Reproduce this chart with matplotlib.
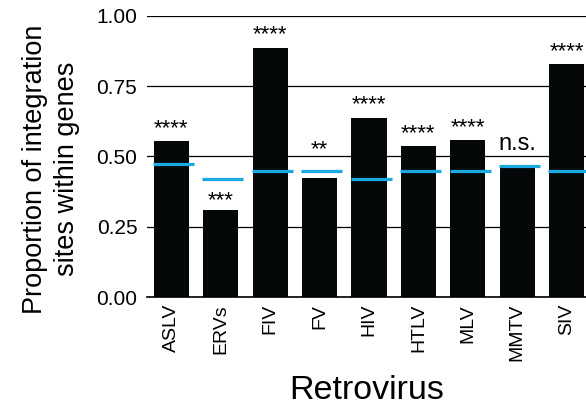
import numpy as np
import matplotlib.pyplot as plt

plt.rcParams['font.family'] = ['Liberation Sans', 'DejaVu Sans']

# proportion of integration sites within genes, per retrovirus
viruses = ['ASLV', 'ERVs', 'FIV', 'FV', 'HIV', 'HTLV', 'MLV', 'MMTV', 'SIV']
observed = [0.555, 0.31, 0.887, 0.422, 0.638, 0.538, 0.558, 0.46, 0.828]
expected = [0.472, 0.42, 0.449, 0.449, 0.42, 0.449, 0.449, 0.465, 0.449]
signif = ['****', '***', '****', '**', '****', '****', '****', 'n.s.', '****']

fig = plt.figure(figsize=(5.86, 4.08), dpi=100)
ax = fig.add_axes([0.251, 0.272, 0.749, 0.689])

x = np.arange(len(viruses))
ax.bar(x, observed, width=0.71, color='#050808', zorder=2)
# random-expectation level for each virus
ax.hlines(expected, x - 0.37, x + 0.46, color='#1ba9e1', linewidth=2.3, zorder=3)

# significance marks sit just above the bar (FV clears the blue line)
for xi, val, s in zip(x, observed, signif):
    off = 1.5
    if s == 'n.s.':
        off = 9
    elif viruses[xi] == 'FV':
        off = 13
    elif viruses[xi] == 'ERVs':
        off = -1
    ax.annotate(s, (xi, val), xytext=(0, off), textcoords='offset points',
                ha='center', va='bottom', fontsize=17 if s == 'n.s.' else 16)

ax.set_xlim(-0.49, 8.39)
ax.set_ylim(0, 1.0)
ax.set_yticks([0, 0.25, 0.5, 0.75, 1.0])
ax.set_yticklabels(['0.00', '0.25', '0.50', '0.75', '1.00'])
ax.yaxis.grid(True, color='black', linewidth=0.9, zorder=0)
ax.set_axisbelow(True)
ax.set_xticks(x)
ax.set_xticklabels(viruses, rotation=90)
ax.tick_params(axis='y', length=0, labelsize=15, pad=7)
ax.tick_params(axis='x', length=0, labelsize=14, pad=5)
for side in ['left', 'right', 'top']:
    ax.spines[side].set_visible(False)
ax.spines['bottom'].set_linewidth(1.2)

ax.set_ylabel('Proportion of integration\nsites within genes', fontsize=19.5,
              linespacing=1.3)
ax.yaxis.set_label_coords(-0.153, 0.455)
ax.set_xlabel('Retrovirus', fontsize=24.5, labelpad=10)

fig.savefig('out.png', dpi=100)
